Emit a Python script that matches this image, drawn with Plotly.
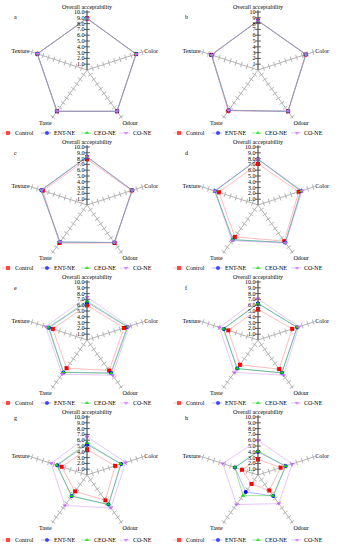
import plotly.graph_objects as go

W, H = 340, 550

categories = ["Overall acceptability", "Color", "Odour", "Taste", "Texture"]
series_names = ["Control", "ENT-NE", "CEO-NE", "CO-NE"]
panel_letters = ["a", "b", "c", "d", "e", "f", "g", "h"]
tick_vals = [1, 2, 3, 4, 5, 6, 7, 8, 9, 10]
tick_text_decimal = ["1.0", "2.0", "3.0", "4.0", "5.0", "6.0", "7.0", "8.0", "9.0", "10.0"]
tick_text_integer = ["1", "2", "3", "4", "5", "6", "7", "8", "9", "10"]

# values: Overall acceptability, Color, Odour, Taste, Texture
a_control = [8.9, 8.9, 8.8, 8.8, 9.0]
a_ent = [8.9, 8.9, 8.8, 8.8, 9.0]
a_ceo = [8.9, 8.9, 8.8, 8.8, 9.0]
a_co = [8.9, 8.9, 8.8, 8.8, 9.0]

b_control = [8.5, 8.6, 8.8, 8.7, 8.5]
b_ent = [8.5, 8.7, 8.8, 8.6, 8.4]
b_ceo = [8.5, 8.7, 8.8, 8.6, 8.4]
b_co = [8.5, 8.7, 8.8, 8.6, 8.4]

c_control = [7.9, 8.1, 8.1, 8.1, 8.0]
c_ent = [8.3, 8.2, 8.0, 7.9, 8.3]
c_ceo = [8.3, 8.2, 8.0, 7.9, 8.3]
c_co = [8.3, 8.2, 8.0, 7.9, 8.2]

d_control = [7.1, 7.4, 7.7, 6.8, 7.1]
d_ent = [7.9, 7.8, 8.0, 7.4, 7.8]
d_ceo = [7.9, 7.8, 8.0, 7.4, 7.8]
d_co = [7.9, 8.0, 8.1, 7.6, 7.9]

e_control = [6.0, 6.7, 6.5, 6.0, 6.2]
e_ent = [6.5, 7.3, 7.0, 6.9, 6.9]
e_ceo = [6.7, 7.4, 7.1, 6.9, 7.0]
e_co = [7.4, 7.6, 7.5, 7.3, 7.5]

f_control = [5.3, 6.2, 6.2, 5.3, 5.4]
f_ent = [6.3, 7.1, 7.0, 6.1, 6.2]
f_ceo = [6.3, 7.1, 7.0, 6.1, 6.3]
f_co = [7.1, 7.4, 7.5, 6.9, 7.0]

g_control = [4.4, 5.1, 5.4, 3.5, 4.6]
g_ent = [5.3, 6.2, 6.3, 4.5, 5.4]
g_ceo = [5.5, 6.1, 6.3, 4.5, 5.5]
g_co = [6.6, 7.0, 7.0, 6.5, 6.5]

h_control = [2.7, 4.1, 3.3, 1.9, 2.9]
h_ent = [4.0, 5.0, 4.5, 3.6, 4.2]
h_ceo = [4.1, 5.0, 4.4, 4.4, 4.2]
h_co = [6.0, 6.2, 6.1, 6.3, 6.4]

panels = [
    [a_control, a_ent, a_ceo, a_co],
    [b_control, b_ent, b_ceo, b_co],
    [c_control, c_ent, c_ceo, c_co],
    [d_control, d_ent, d_ceo, d_co],
    [e_control, e_ent, e_ceo, e_co],
    [f_control, f_ent, f_ceo, f_co],
    [g_control, g_ent, g_ceo, g_co],
    [h_control, h_ent, h_ceo, h_co],
]

# styles
line_colors = ["rgba(255,90,90,0.4)", "rgba(70,70,255,0.4)", "rgba(0,200,0,0.4)", "rgba(200,130,255,0.45)"]
marker_colors = ["#ff0000", "#0000ff", "#00dd00", "#cc66ff"]
marker_symbols = ["square", "circle", "triangle-up", "triangle-down"]
FONT = "Liberation Serif"
RMAX = 10.3
PX_PER_10 = 58.0
R_PX = PX_PER_10 * RMAX / 10.0
col_x = [87, 258]
row_y = [70, 205, 340, 475]
legend_y = [133, 268, 403, 540]
letter_y = [17, 153, 288, 418]
legend_col_x0 = [0, 171]
legend_item_x = [8, 47, 87, 126]
spoke_angles = [0, 72, 144, 216, 288]

fig = go.Figure()
annotations = []
layout_updates = {}

for p in range(8):
    row, col = p // 2, p % 2
    cx, cy = col_x[col], row_y[row]
    pid = "polar" if p == 0 else f"polar{p+1}"
    sub = pid
    dom_x = [(cx - R_PX) / W, (cx + R_PX) / W]
    dom_y = [(H - cy - R_PX) / H, (H - cy + R_PX) / H]
    layout_updates[pid] = dict(
        domain=dict(x=dom_x, y=dom_y),
        bgcolor="rgba(0,0,0,0)",
        angularaxis=dict(
            type="category",
            categoryorder="array",
            categoryarray=categories,
            rotation=90,
            direction="clockwise",
            showline=False,
            ticks="",
            showgrid=True,
            gridcolor="#b4b4b4",
            gridwidth=1,
            tickfont=dict(family=FONT, size=6, color="#000"),
        ),
        radialaxis=dict(
            range=[0, RMAX],
            angle=90,
            side="counterclockwise",
            tickangle=90,
            showgrid=False,
            showline=True,
            linecolor="#555",
            linewidth=1,
            ticks="",
            tickvals=tick_vals,
            ticktext=tick_text_integer if p == 1 else tick_text_decimal,
            tickfont=dict(family=FONT, size=6, color="#000"),
        ),
    )
    # cross-tick marks on every spoke
    tr, tt, ta, tc = [], [], [], []
    for ci, cat in enumerate(categories):
        for v in tick_vals:
            tr.append(v)
            tt.append(cat)
            ta.append(spoke_angles[ci])
            tc.append("#555" if ci == 0 else "#b4b4b4")
    fig.add_trace(go.Scatterpolar(
        r=tr, theta=tt, mode="markers", subplot=sub, showlegend=False, hoverinfo="skip",
        marker=dict(symbol="line-ew", size=4, angle=ta, line=dict(width=1, color=tc)),
    ))
    for s in range(4):
        vals = panels[p][s]
        fig.add_trace(go.Scatterpolar(
            r=vals + [vals[0]],
            theta=categories + [categories[0]],
            mode="lines+markers",
            subplot=sub,
            name=series_names[s],
            showlegend=False,
            line=dict(color=line_colors[s], width=1),
            marker=dict(symbol=marker_symbols[s], size=4, color=marker_colors[s],
                        line=dict(width=0)),
        ))
    # panel letter
    annotations.append(dict(
        x=(legend_col_x0[col] + 15), y=letter_y[row], xref="x", yref="y",
        text=panel_letters[p], showarrow=False, xanchor="center", yanchor="middle",
        font=dict(family=FONT, size=6, color="#000"),
    ))
    # custom legend
    for s in range(4):
        mx = legend_col_x0[col] + legend_item_x[s]
        ly = legend_y[row]
        fig.add_trace(go.Scatter(
            x=[mx - 6, mx, mx + 4], y=[ly, ly, ly], mode="lines+markers",
            xaxis="x", yaxis="y", showlegend=False, hoverinfo="skip",
            line=dict(color=line_colors[s], width=1),
            marker=dict(symbol=marker_symbols[s], size=[0, 4, 0], color=marker_colors[s],
                        line=dict(width=0)),
        ))
        annotations.append(dict(
            x=mx + 5, y=ly, xref="x", yref="y", text=series_names[s], showarrow=False,
            xanchor="left", yanchor="middle", font=dict(family=FONT, size=6, color="#000"),
        ))

fig.update_layout(
    width=W, height=H,
    margin=dict(l=0, r=0, t=0, b=0),
    paper_bgcolor="white",
    plot_bgcolor="rgba(0,0,0,0)",
    showlegend=False,
    hovermode=False,
    xaxis=dict(range=[0, W], domain=[0, 1], visible=False, fixedrange=True),
    yaxis=dict(range=[H, 0], domain=[0, 1], visible=False, fixedrange=True),
    annotations=annotations,
    **layout_updates,
)

fig.write_html(
    "out.html",
    config={"displayModeBar": False, "staticPlot": True},
    post_script="document.body.style.margin='0';document.body.style.overflow='hidden';",
)
